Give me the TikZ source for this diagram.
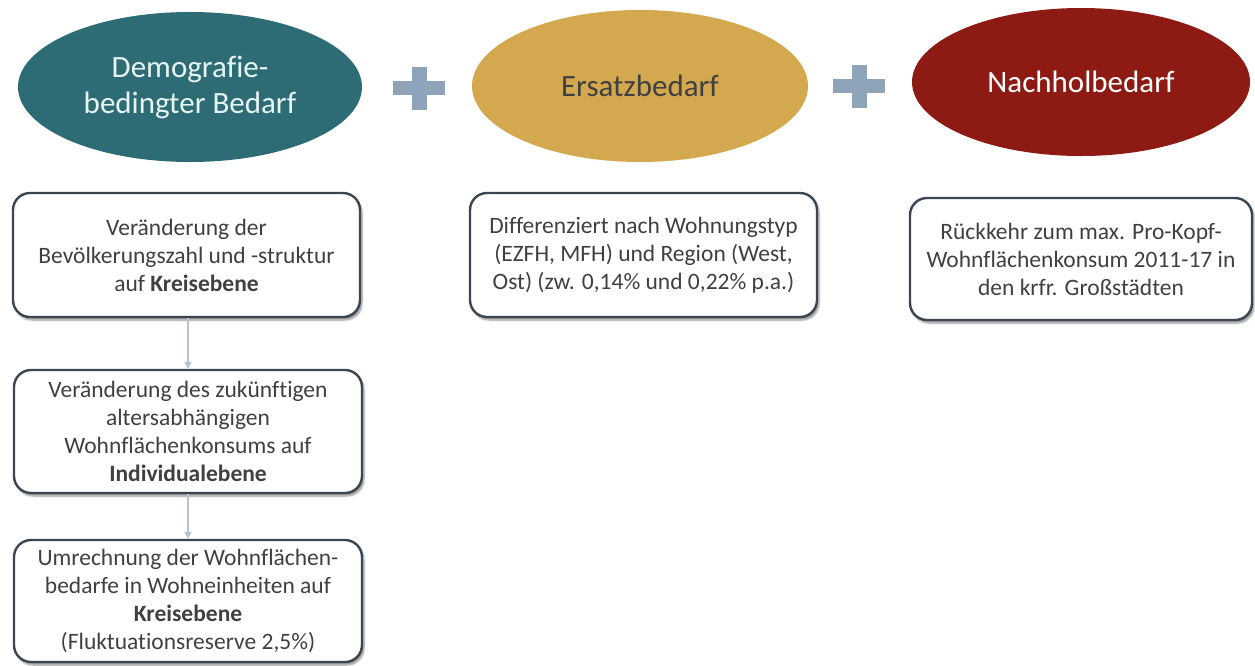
\documentclass[tikz,border=0pt]{standalone}
\usepackage{fontspec}
\setmainfont[Ligatures=NoCommon]{Carlito}
\usetikzlibrary{shapes.geometric,shadows.blur,arrows.meta}
\definecolor{tealc}{HTML}{2E6C75}
\definecolor{goldc}{HTML}{D3A84F}
\definecolor{redc}{HTML}{8E1B13}
\definecolor{plusc}{HTML}{8EA4B8}
\definecolor{boxline}{HTML}{3A4652}
\definecolor{txt}{HTML}{404040}
\definecolor{arrc}{HTML}{B5C4D3}
\definecolor{lighttxt}{HTML}{E6F4F2}
\tikzset{
  oval/.style={ellipse, draw=none, align=center, font=\fontsize{31}{36}\selectfont, inner sep=0pt},
  infobox/.style={draw=boxline, line width=2.4pt, rounded corners=17pt, fill=white, align=center,
     text=txt, font=\fontsize{23.5}{28}\selectfont, inner sep=0pt,
     blur shadow={shadow xshift=2pt, shadow yshift=-3pt, shadow blur steps=6, shadow opacity=45}},
  flow/.style={draw=arrc, line width=1.6pt, -{Triangle[length=7pt,width=7pt]}}
}
\begin{document}
\begin{tikzpicture}[x=1pt,y=-1pt]
\useasboundingbox (0,0) rectangle (1255,665);
% ellipses
\node[oval, fill=tealc, text=lighttxt, minimum width=344pt, minimum height=150pt] (demo) at (190,87) {Demografie-\\bedingter Bedarf};
\node[oval, fill=goldc, text=txt, minimum width=336pt, minimum height=152pt] (ersatz) at (640,86) {Ersatzbedarf};
\node[oval, fill=redc, text=white, minimum width=338pt, minimum height=148pt] (nach) at (1081,82) {Nachholbedarf};
% plus signs
\node[fill=plusc, inner sep=0pt, minimum width=52pt, minimum height=14pt] (plusAh) at (419,88) {};
\node[fill=plusc, inner sep=0pt, minimum width=15pt, minimum height=43pt] (plusAv) at (419,88) {};
\node[fill=plusc, inner sep=0pt, minimum width=52pt, minimum height=14pt] (plusBh) at (859,86) {};
\node[fill=plusc, inner sep=0pt, minimum width=15pt, minimum height=43pt] (plusBv) at (859,86) {};
% boxes
\node[infobox, minimum width=347pt, minimum height=124pt] (b1) at (186.5,255) {Veränderung der\\Bevölkerungszahl und -struktur\\auf \textbf{Kreisebene}};
\node[infobox, minimum width=348pt, minimum height=123pt] (b2) at (188,431.5) {Veränderung des zukünftigen\\altersabhängigen\\Wohnflächenkonsums auf\\\textbf{Individualebene}};
\node[infobox, minimum width=348pt, minimum height=122pt] (b3) at (188,601) {Umrechnung der Wohnflächen-\\bedarfe in Wohneinheiten auf\\\textbf{Kreisebene}\\(Fluktuationsreserve 2,5\%)};
\node[infobox, minimum width=347pt, minimum height=124pt] (bm) at (643.5,255) {Differenziert nach Wohnungstyp\\(EZFH, MFH) und Region (West,\\Ost) (zw. 0,14\% und 0,22\% p.a.)};
\node[infobox, minimum width=342pt, minimum height=122pt] (br) at (1081,259) {Rückkehr zum max. Pro-Kopf-\\Wohnflächenkonsum 2011-17 in\\den krfr. Großstädten};
% arrows
\draw[flow] (b1.south -| 188,0) -- (b2.north -| 188,0);
\draw[flow] (b2.south) -- (b3.north);
\end{tikzpicture}
\end{document}
